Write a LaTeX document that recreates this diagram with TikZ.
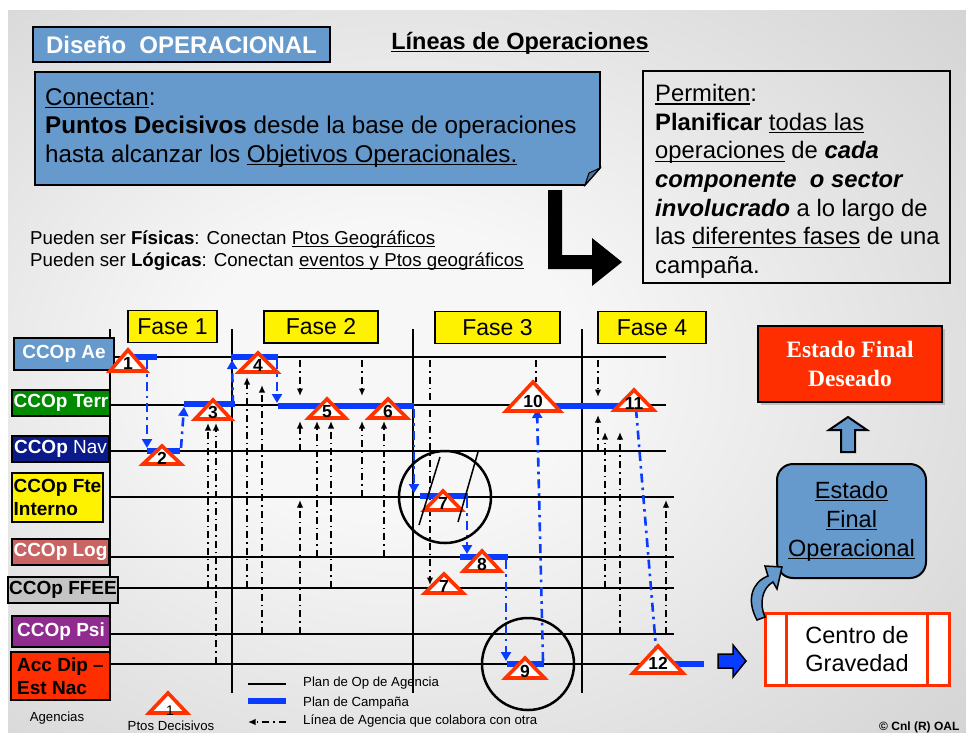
\documentclass[tikz,border=0pt]{standalone}
\usepackage{fontspec}
\setmainfont{Liberation Sans}
\newfontfamily\timesbf{Liberation Serif}
\usetikzlibrary{arrows.meta,shadows}

\definecolor{steel}{HTML}{6699CC}
\definecolor{terrgreen}{HTML}{008A00}
\definecolor{navblue}{HTML}{0A1A8A}
\definecolor{logred}{HTML}{C86464}
\definecolor{ffeegray}{HTML}{C4C4C4}
\definecolor{psipurple}{HTML}{902C90}
\definecolor{dipred}{HTML}{FF2E00}
\definecolor{planblue}{HTML}{0A3CFF}
\definecolor{trired}{HTML}{FF3300}
\definecolor{bgA}{gray}{0.97}
\definecolor{bgB}{gray}{0.78}
\definecolor{bgC}{gray}{0.68}

\pgfdeclareradialshading{bgglow}{\pgfpoint{-6bp}{0bp}}{color(0bp)=(bgA); color(10bp)=(bgA); color(48bp)=(bgB); color(75bp)=(bgC)}

% underline close to the baseline
\newsavebox{\ulbox}
\newcommand{\ulx}[1]{\sbox{\ulbox}{#1}\rlap{\rule[-0.13em]{\wd\ulbox}{0.055em}}\usebox{\ulbox}}

% punto decisivo: name, apex x, apex y, half width, height, number
\newcommand{\pdec}[6]{%
  \filldraw[tri] (#2-#4,#3+#5) -- (#2,#3) -- (#2+#4,#3+#5) -- cycle;
  \node[trinum] (#1) at (#2,#3+0.66*#5) {#6};}

\begin{document}
\begin{tikzpicture}[x=1pt,y=-1pt,
  agency/.style={draw=black,line width=2pt,inner sep=0pt,font=\fontsize{19}{23}\selectfont\bfseries},
  fase/.style={draw=black,line width=1.6pt,fill=yellow,minimum height=32,inner sep=0pt,font=\fontsize{23}{23}\selectfont},
  agline/.style={line width=2pt},
  plan/.style={line width=6pt,draw=planblue},
  link/.style={line width=2.6pt,draw=planblue,dash pattern=on 9pt off 5pt on 2.6pt off 5pt,-{Triangle[length=9pt,width=10pt]}},
  collab/.style={line width=1.6pt,dash pattern=on 7pt off 4pt on 1.6pt off 4pt,-{Latex[length=7.5pt,width=6.5pt]}},
  tri/.style={draw=trired,line width=3.6pt,fill=white},
  trinum/.style={inner sep=0pt,font=\fontsize{17.5}{17.5}\selectfont\bfseries},
  legtext/.style={anchor=west,inner sep=0pt,font=\fontsize{13.2}{13.2}\selectfont}]

\useasboundingbox (0,0) rectangle (966,732);
\fill[white] (0,0) rectangle (966,732);
\shade[shading=bgglow] (8,10) rectangle (966,732);

% top part
\node[draw=black,line width=2pt,fill=steel,text=white,minimum width=297,minimum height=35,inner sep=0pt,
  font=\fontsize{24}{24}\selectfont\bfseries] (diseno) at (181.5,44.5) {Diseño\ \ OPERACIONAL};
\node[inner sep=0pt,font=\fontsize{23.5}{23.5}\selectfont\bfseries] (lineas) at (520,43) {\ulx{Líneas de Operaciones}};

\filldraw[fill=steel,line width=1.6pt] (35,72) -- (600,72) -- (600,168) -- (585,185) -- (35,185) -- cycle;
\filldraw[fill=steel!75!black,line width=1pt] (585,185) -- (589,173) -- (600,168) -- cycle;
\node[anchor=north west,align=left,inner sep=0pt,font=\fontsize{24.2}{28.5}\selectfont] (conectan) at (45,88)
  {\ulx{Conectan}:\\\textbf{Puntos Decisivos} desde la base de operaciones\\hasta alcanzar los \ulx{Objetivos Operacionales.}};

\fill[black] (548,190) -- (562,190) -- (562,255) -- (592,255) -- (592,238) -- (622,262) -- (592,286) -- (592,269) -- (548,269) -- cycle;

\node[anchor=north west,align=left,inner sep=0pt,font=\fontsize{18.7}{22}\selectfont] (pueden) at (30,231)
  {Pueden ser \textbf{Físicas}: Conectan \ulx{Ptos Geográficos}\\Pueden ser \textbf{Lógicas}: Conectan \ulx{eventos y Ptos geográficos}};

\draw[line width=2pt] (643,71) rectangle (950,283);
\node[anchor=north west,align=left,inner sep=0pt,font=\fontsize{23.8}{28.7}\selectfont] (permiten) at (655,84)
  {\ulx{Permiten}:\\\textbf{Planificar} \ulx{todas las}\\\ulx{operaciones} de \textbf{\textit{cada}}\\\textbf{\textit{componente\ \ o sector}}\\\textbf{\textit{involucrado}} a lo largo de\\las \ulx{diferentes fases} de una\\campaña.};

% grid of agencies and phases
\draw[agline] (110,329) -- (110,698);
\foreach \px in {232,413,582}
  \draw[agline] (\px,329) -- (\px,693);
\foreach \ly/\lx in {357/666,405/666,451/666,497/674,557/674,588/674,634/674,664/674}
  \draw[agline] (110,\ly) -- (\lx,\ly);

\node[fase,minimum width=89] (f1) at (172.5,326.5) {Fase 1};
\node[fase,minimum width=114] (f2) at (321,327) {Fase 2};
\node[fase,minimum width=125] (f3) at (497.5,327.5) {Fase 3};
\node[fase,minimum width=108] (f4) at (652,327.5) {Fase 4};

% agencies
\node[agency,fill=steel,text=white,minimum width=100,minimum height=32] (ae) at (64,354) {CCOp Ae};
\node[agency,fill=terrgreen,text=white,minimum width=98,minimum height=26] (terr) at (61,403) {CCOp Terr};
\node[agency,fill=navblue,text=white,minimum width=97,minimum height=26] (nav) at (60.5,449) {CCOp {\mdseries Nav}};
\node[agency,fill=yellow,minimum width=91,minimum height=49,align=left] (fte) at (57.5,497.5) {CCOp Fte\\Interno};
\node[agency,fill=logred,text=white,minimum width=97,minimum height=26] (log) at (60.5,552) {CCOp Log};
\node[agency,fill=ffeegray,minimum width=110,minimum height=26] (ffee) at (63,590) {CCOp FFEE};
\node[agency,fill=psipurple,text=white,minimum width=98,minimum height=31] (psi) at (61,631.5) {CCOp Psi};
\node[agency,fill=dipred,minimum width=99,minimum height=48,align=left] (dip) at (60.5,676) {Acc Dip –\\Est Nac};

% collaborating agencies
\draw[collab] (208,588) -- (208,423);
\draw[collab] (216,664) -- (216,423);
\draw[collab] (247,588) -- (247,377);
\draw[collab] (262,634) -- (262,385);
\draw[collab] (300,360) -- (300,396);
\draw[collab] (300,451) -- (300,421);
\draw[collab] (300,634) -- (300,500);
\draw[collab] (317,557) -- (317,421);
\draw[collab] (331,588) -- (331,421);
\draw[collab] (362,360) -- (362,396);
\draw[collab] (362,497) -- (362,421);
\draw[collab] (384,557) -- (384,421);
\draw[collab] (430,360) -- (430,585);
\draw[collab,-] (536,360) -- (536,382);
\draw[collab] (598,360) -- (598,397);
\draw[collab] (598,451) -- (598,415);
\draw[collab] (605,588) -- (605,432);
\draw[collab] (620,634) -- (620,432);
\draw[collab] (666,634) -- (666,500);

% plan de campana
\draw[plan] (125,357) -- (157,357);
\draw[link] (147,360) -- (147,448);
\draw[plan] (147,451) -- (180,451);
\draw[link] (181,448) -- (184,407);
\draw[plan] (184,404) -- (235,404);
\draw[link] (233,404) -- (232,360);
\draw[plan] (231,357) -- (278,357);
\draw[link] (277,360) -- (277,403);
\draw[plan] (278,406) -- (414,406);
\draw[link] (414,409) -- (414,493);
\draw[plan] (420,496) -- (468,496);
\draw[link] (467,499) -- (467,554);
\draw[plan] (460,557) -- (508,557);
\draw[link] (506,560) -- (506,661);
\draw[plan] (507,664) -- (544,664);
\draw[link] (543,661) -- (537,409);
\draw[plan] (537,406) -- (634,406);
\draw[link,-] (636,409) -- (657,660);
\draw[plan] (660,664) -- (704,664);

% puntos decisivos
\pdec{p1}{128}{350}{18}{21}{1}
\pdec{p2}{162}{446}{19}{18}{2}
\pdec{p3}{213}{400}{18}{19}{3}
\pdec{p4}{258}{353}{19}{19}{4}
\pdec{p5}{327}{399}{18.5}{19}{5}
\pdec{p6}{388}{399}{19}{19}{6}
\pdec{p7a}{443}{491}{18.5}{19}{7}
\pdec{p7b}{444}{574}{19}{19}{7}
\pdec{p8}{482}{551}{18.5}{20}{8}
\pdec{p9}{525}{658}{19.5}{20}{9}
\pdec{p10}{533}{382}{27}{29}{10}
\pdec{p11}{634}{390}{19.5}{20}{11}
\pdec{p12}{658}{646}{25}{27}{12}

% zoom circles
\draw[line width=2.5pt] (445,497) circle[radius=46pt];
\draw[line width=1.5pt] (440,457) -- (419,525);
\draw[line width=1.5pt] (478,452) -- (458,522);
\draw[line width=2.5pt] (528,664) circle[radius=46pt];

% right side
\node[draw=black,line width=2pt,fill=dipred,text=white,align=center,minimum width=184,minimum height=76,
  font=\timesbf\fontsize{23.5}{29}\selectfont\bfseries,
  drop shadow={shadow xshift=3pt,shadow yshift=-3pt,opacity=0.4}] (efd) at (850,364) {Estado Final\\Deseado};
\node[draw=black,line width=2pt,fill=steel,rounded corners=16pt,align=center,minimum width=149,minimum height=114,
  font=\fontsize{23.5}{29}\selectfont] (efo) at (851.5,521) {\ulx{Estado}\\\ulx{Final}\\\ulx{Operacional}};
\node[draw=dipred,line width=3pt,fill=white,align=center,minimum width=184,minimum height=72,
  font=\fontsize{23.5}{28}\selectfont] (cdg) at (857,649) {Centro de\\Gravedad};
\draw[dipred,line width=3pt] ([xshift=23pt]cdg.north west) -- ([xshift=23pt]cdg.south west);
\draw[dipred,line width=3pt] ([xshift=-23pt]cdg.north east) -- ([xshift=-23pt]cdg.south east);

\filldraw[fill=steel,draw=black,line width=2pt] (841,452) -- (841,430) -- (829,430) -- (848,417) -- (867,430) -- (855,430) -- (855,452) -- cycle;
\filldraw[fill=planblue,draw=black,line width=1.5pt] (718,654) -- (733,654) -- (733,645) -- (746,661) -- (733,677) -- (733,668) -- (718,668) -- cycle;
\filldraw[fill=steel,draw=black,line width=1.5pt] (757,620) .. controls (746,600) and (752,582) .. (768,576)
  -- (765,566) -- (782,567) -- (777,589) -- (773,582) .. controls (762,588) and (759,604) .. (765,617) -- cycle;

% legend
\draw[agline] (248,684) -- (286,684);
\draw[plan] (248,701) -- (286,701);
\draw[collab] (286,722) -- (248,722);
\node[legtext] (legop) at (303,683) {Plan de Op de Agencia};
\node[legtext] (legcamp) at (303,703) {Plan de Campaña};
\node[legtext] (legcol) at (303,721) {Línea de Agencia que colabora con otra};
\pdec{legtri}{168}{693}{19}{20}{}
\node[inner sep=0pt,font=\fontsize{14}{14}\selectfont] (legnum) at (170,711) {1};
\node[inner sep=0pt,font=\fontsize{13.2}{13.2}\selectfont] (legpto) at (171,726) {Ptos Decisivos};
\node[inner sep=0pt,font=\fontsize{13.2}{13.2}\selectfont] (agencias) at (57,718) {Agencias};
\node[anchor=west,inner sep=0pt,font=\fontsize{12}{12}\selectfont\bfseries] (autor) at (879,727) {© Cnl (R) OAL};
\end{tikzpicture}
\end{document}
